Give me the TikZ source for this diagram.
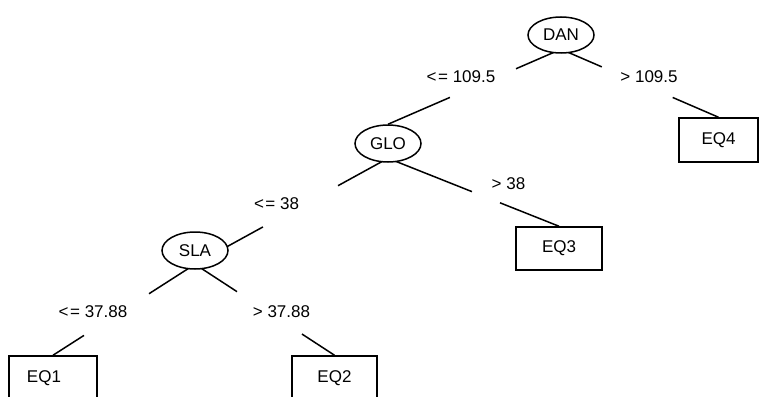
\documentclass[tikz,border=0pt]{standalone}
\usepackage{fontspec}
\setmainfont{Liberation Sans}
\usetikzlibrary{calc,backgrounds,shapes.geometric}
\begin{document}
\begin{tikzpicture}[x=1pt,y=-1pt,
  every node/.style={font=\fontsize{17}{20}\selectfont},
  split/.style={draw, ellipse, line width=1.5pt, fill=white, inner sep=0pt,
    minimum width=66pt, minimum height=37pt},
  leaf/.style={draw, rectangle, line width=1.5pt, fill=white, inner sep=0pt,
    minimum width=86pt, minimum height=43pt},
  edge/.style={line width=1.5pt},
  cond/.style={anchor=base, inner sep=0pt}]
\useasboundingbox (0,0) rectangle (759,396);

% decision nodes
\node[split, minimum height=36pt] (DAN) at (561,35) {DAN};
\node[split] (GLO) at (388,143.5) {GLO};
\node[split] (SLA) at (195,250.5) {SLA};

% leaves
\node[leaf, minimum width=79pt, minimum height=44pt] (EQ4) at (718.5,140) {EQ4};
\node[leaf] (EQ3) at (559,248.5) {EQ3};
\node[leaf, minimum width=88pt, minimum height=44pt] (EQ1) at (53,378) {\hspace*{-18pt}EQ1};
\node[leaf, minimum width=85pt, minimum height=44pt] (EQ2) at (334.5,378) {EQ2};

% branch conditions
\node[cond] (L1) at (461,82) {<\kern1.5pt= 109.5};
\node[cond] (L2) at (649,82) {> 109.5};
\node[cond] (L3) at (276.5,209.5) {<\kern1.5pt= 38};
\node[cond] (L4) at (508.5,189) {> 38};
\node[cond] (L5) at (93,317) {<\kern1.5pt= 37.88};
\node[cond] (L6) at (281.5,317) {> 37.88};

\begin{pgfonlayer}{background}
\coordinate (DANo) at ([yshift=4.5pt]DAN.south);
\coordinate (GLOo) at ([yshift=4.5pt]GLO.south);
\coordinate (SLAo) at ([yshift=5.5pt]SLA.south);

\draw[edge] (DANo) -- ($(DANo)!0.26!(GLO.north)$)
            ($(DANo)!0.642!(GLO.north)$) -- (GLO.north);
\draw[edge] (DANo) -- ($(DANo)!0.259!(EQ4.north)$)
            ($(DANo)!0.709!(EQ4.north)$) -- (EQ4.north);
\draw[edge] (GLOo) -- ($(GLOo)!0.259!(SLAo)$)
            ($(GLOo)!0.648!(SLAo)$) -- (SLAo);
\draw[edge] (GLOo) -- ($(GLOo)!0.491!(EQ3.north)$)
            ($(GLOo)!0.655!(EQ3.north)$) -- (EQ3.north);
\draw[edge] (SLAo) -- ($(SLAo)!0.324!(EQ1.north)$)
            ($(SLAo)!0.782!(EQ1.north)$) -- (EQ1.north);
\draw[edge] (SLAo) -- ($(SLAo)!0.301!(EQ2.north)$)
            ($(SLAo)!0.767!(EQ2.north)$) -- (EQ2.north);
\end{pgfonlayer}
\end{tikzpicture}
\end{document}
